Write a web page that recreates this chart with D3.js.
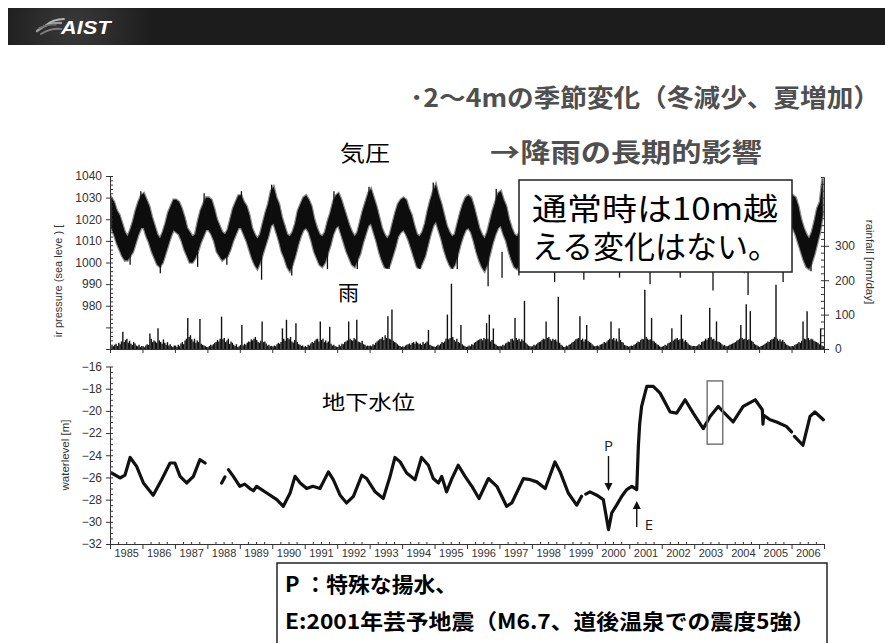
<!DOCTYPE html>
<html>
<head>
<meta charset="utf-8">
<script src="https://cdn.jsdelivr.net/npm/d3@7"></script>
<style>
  body { margin: 0; background: #fff; }
  svg { display: block; }
</style>
</head>
<body>
<svg id="chart" width="885" height="643"></svg>
<script>
// ---- data -------------------------------------------------------------
const years = d3.range(1985, 2007);
const yearLabels = years.map(String);

// monthly upper / lower envelope of sea-level air pressure [hPa], Jan..Dec
const pressureUpper = [
  [1030,1028,1024,1022,1018,1014,1012,1015,1019,1024,1028,1031],
  [1032,1029,1026,1021,1017,1013,1011,1014,1018,1023,1026,1029],
  [1029,1028,1025,1021,1016,1014,1012,1013,1019,1024,1027,1030],
  [1030,1029,1025,1020,1017,1014,1013,1015,1020,1025,1028,1031],
  [1031,1028,1026,1022,1016,1013,1011,1013,1018,1023,1027,1033],
  [1035,1030,1027,1021,1017,1013,1012,1014,1018,1024,1027,1030],
  [1031,1029,1026,1020,1016,1013,1012,1014,1019,1023,1028,1031],
  [1032,1029,1025,1021,1017,1014,1012,1014,1019,1024,1028,1032],
  [1034,1030,1026,1021,1016,1013,1011,1013,1018,1023,1027,1029],
  [1030,1029,1025,1022,1017,1013,1012,1014,1018,1024,1029,1033],
  [1036,1031,1027,1022,1017,1014,1012,1013,1018,1023,1027,1030],
  [1031,1030,1026,1021,1016,1013,1011,1014,1019,1024,1028,1032],
  [1033,1029,1026,1020,1016,1013,1012,1014,1018,1023,1027,1030],
  [1031,1029,1025,1021,1016,1014,1012,1013,1019,1024,1027,1029],
  [1030,1029,1026,1022,1017,1013,1012,1014,1018,1023,1028,1031],
  [1032,1030,1025,1021,1016,1013,1011,1014,1019,1024,1027,1030],
  [1031,1029,1026,1020,1017,1014,1012,1013,1018,1023,1027,1029],
  [1030,1028,1025,1021,1016,1013,1012,1014,1019,1024,1028,1031],
  [1032,1029,1026,1022,1017,1013,1011,1013,1018,1023,1027,1030],
  [1031,1030,1025,1021,1016,1014,1012,1014,1019,1024,1028,1032],
  [1033,1030,1026,1020,1017,1013,1012,1013,1018,1023,1027,1030],
  [1031,1030,1026,1020,1016,1013,1011,1014,1019,1025,1028,1039]
];
const pressureLower = [
  [1016,1013,1009,1006,1003,1001,1001,1003,1005,1009,1013,1016],
  [1016,1012,1009,1005,1002, 999, 998,1000,1004,1008,1012,1015],
  [1014,1013,1010,1006,1003,1000,1000,1002,1005,1009,1012,1015],
  [1015,1013,1010,1005,1003,1001,1002,1003,1006,1010,1013,1016],
  [1016,1013,1010,1006,1002, 999, 997,1000,1004,1008,1012,1017],
  [1018,1014,1010,1005,1002, 998, 996, 999,1003,1008,1012,1015],
  [1016,1014,1010,1005,1002, 999, 998,1000,1004,1008,1013,1016],
  [1017,1013,1009,1005,1002, 999, 998,1001,1004,1009,1013,1017],
  [1018,1014,1010,1005,1001, 998, 997, 999,1003,1007,1012,1014],
  [1015,1013,1010,1006,1002, 998, 997,1000,1003,1008,1013,1017],
  [1019,1015,1011,1006,1002, 999, 997, 999,1003,1008,1012,1015],
  [1016,1014,1010,1005,1001, 998, 996, 999,1004,1009,1013,1016],
  [1017,1013,1010,1005,1001, 998, 997,1000,1003,1008,1012,1015],
  [1016,1014,1010,1006,1002, 999, 997, 999,1004,1009,1012,1014],
  [1015,1013,1010,1006,1002, 999, 998,1000,1003,1008,1013,1016],
  [1017,1014,1009,1005,1001, 998, 997,1000,1004,1009,1012,1015],
  [1016,1013,1010,1005,1002, 999, 998, 999,1003,1008,1012,1014],
  [1015,1013,1010,1006,1001, 998, 997,1000,1004,1009,1013,1016],
  [1017,1014,1010,1006,1002, 999, 998, 999,1003,1008,1012,1015],
  [1016,1014,1009,1005,1001, 998, 996, 999,1004,1009,1013,1017],
  [1018,1014,1010,1005,1002, 999, 998, 999,1003,1008,1012,1015],
  [1016,1013,1009,1005,1001, 998, 997,1000,1004,1009,1014,1022]
];
// short low-pressure drops (typhoon passages): [year, hPa]
const pressureDips = [
  [1985.62,999],[1986.55,995],[1987.7,998],[1988.6,999],[1989.67,992],
  [1990.6,994],[1991.7,997],[1992.62,996],[1993.6,995],[1994.55,996],
  [1995.7,995],[1996.65,989],[1997.08,993],[1997.6,994],[1998.7,991],
  [1999.6,992],[2000.7,993],[2001.64,990],[2002.57,993],[2003.58,987],
  [2004.66,985],[2005.74,991],[2006.6,996]
];
// short high-pressure peaks: [year, hPa]
const pressurePeaks = [
  [1985.95,1033],[1987.9,1032],[1989.05,1033],[1989.98,1036],[1991.9,1033],
  [1992.98,1035],[1994.96,1037],[1996.9,1034],[1998.05,1033]
];

// half-monthly maximum daily rainfall [mm/day]
const rainfall = [
  [6,10,8,12,15,9,18,14,22,50,20,26,30,18,24,15,12,20,16,10,8,12,6,9],
  [8,5,10,14,12,45,30,20,25,22,18,60,25,20,15,28,18,12,20,10,14,8,6,10],
  [10,6,12,8,16,20,14,25,30,90,35,40,28,22,30,18,25,20,87,15,12,10,8,6],
  [5,9,12,10,14,18,20,26,22,30,94,28,32,20,25,30,15,22,18,12,9,14,6,8],
  [12,70,10,15,12,18,22,20,28,25,30,35,26,20,18,24,80,20,22,16,10,12,8,9],
  [7,10,8,14,18,15,20,60,30,24,85,32,28,35,22,18,26,75,20,14,12,9,10,6],
  [9,6,12,10,16,20,18,24,28,30,22,80,26,30,20,25,18,22,65,15,10,12,8,7],
  [6,12,8,15,14,20,22,25,80,30,26,24,32,28,85,22,20,18,24,14,12,8,10,9],
  [10,8,14,12,18,22,25,28,30,35,26,40,32,95,30,28,115,24,20,18,14,10,9,6],
  [8,6,10,12,14,16,12,18,20,15,22,18,14,16,12,20,15,18,22,55,12,10,8,7],
  [6,9,12,10,15,20,18,22,30,100,28,32,190,35,26,22,30,20,18,70,14,10,8,6],
  [7,10,8,14,12,18,20,24,26,28,30,25,32,28,75,30,100,22,26,60,15,12,9,8],
  [9,8,12,10,16,18,22,20,28,30,25,90,32,26,30,22,28,24,140,18,14,10,8,7],
  [8,12,10,14,18,20,22,26,30,28,80,32,35,28,24,30,26,28,22,152,18,12,10,6],
  [6,10,8,12,14,18,20,24,28,30,32,95,26,30,22,28,70,24,20,18,14,10,8,9],
  [10,8,12,14,16,20,18,22,26,30,80,28,32,25,30,22,60,26,20,18,12,10,9,7],
  [8,10,9,12,14,18,22,20,26,30,28,172,35,30,26,28,90,24,22,18,14,12,8,6],
  [7,9,12,10,16,18,20,60,24,28,30,32,26,28,100,30,22,26,20,16,12,10,8,9],
  [9,8,10,14,12,20,22,24,30,26,32,120,35,28,30,24,80,22,20,18,14,10,12,8],
  [8,10,12,14,16,18,20,24,26,30,70,32,28,30,130,26,28,110,24,20,15,12,10,8],
  [6,9,10,12,15,18,22,20,26,28,30,35,187,30,24,28,22,26,20,16,12,10,8,7],
  [9,8,12,14,16,20,18,24,80,30,28,110,32,26,30,28,24,22,20,18,14,60,10,8]
];

// groundwater level [m]; null marks a gap in the record
const waterYears = [
  1985.05,1985.31,1985.46,1985.62,1985.82,1986.03,1986.33,1986.59,1986.85,1987.0,
  1987.16,1987.36,1987.57,1987.77,1987.93,1988.2,1988.44,1988.54,1988.6,1988.65,
  1988.8,1989.0,1989.15,1989.31,1989.42,1989.52,1989.83,1990.14,1990.34,1990.55,
  1990.7,1990.86,1991.06,1991.25,1991.47,1991.73,1991.88,1992.09,1992.29,1992.5,
  1992.76,1992.91,1993.17,1993.42,1993.63,1993.78,1993.94,1994.14,1994.4,1994.6,
  1994.81,1994.96,1995.12,1995.22,1995.37,1995.55,1995.73,1995.94,1996.15,1996.37,
  1996.66,1996.92,1997.22,1997.38,1997.74,1997.95,1998.15,1998.41,1998.71,1998.87,
  1999.12,1999.38,1999.53,1999.6,1999.66,1999.79,2000.0,2000.2,2000.36,2000.46,
  2000.61,2000.77,2000.92,2001.08,2001.23,2001.28,2001.32,2001.38,2001.54,2001.74,
  2001.95,2002.26,2002.46,2002.72,2002.97,2003.28,2003.49,2003.74,2003.9,2004.2,
  2004.51,2004.88,2005.1,2005.12,2005.14,2005.34,2005.54,2005.84,2006.0,2006.05,
  2006.09,2006.35,2006.57,2006.72,2006.98
];
const waterLevels = [
  -25.6,-26.05,-25.8,-24.2,-25.0,-26.5,-27.6,-26.2,-24.7,-24.7,
  -25.9,-26.5,-25.9,-24.4,-24.7,null,-26.5,-25.95,null,-25.3,
  -25.9,-26.8,-26.6,-27.0,-27.2,-26.8,-27.4,-28.0,-28.6,-27.4,
  -25.9,-26.5,-27.0,-26.8,-27.0,-25.5,-26.2,-27.6,-28.3,-27.7,
  -25.8,-26.1,-27.3,-27.9,-25.9,-24.2,-24.6,-25.6,-26.2,-24.2,
  -24.9,-26.1,-26.5,-25.9,-27.3,-26.0,-24.9,-25.9,-26.8,-27.9,
  -26.1,-26.8,-28.6,-28.3,-26.1,-26.2,-26.4,-27.0,-24.6,-25.5,
  -27.4,-28.5,-27.7,null,-27.5,-27.3,-27.6,-28.0,-30.7,-29.2,
  -28.5,-27.7,-27.1,-26.8,-27.1,-23.2,-21.2,-19.6,-17.8,-17.8,
  -18.4,-20.1,-20.2,-19.0,-20.2,-21.6,-20.5,-19.6,-20.1,-21.0,
  -19.6,-19.0,-19.9,-21.2,-20.4,-20.8,-21.0,-21.4,-21.9,null,
  -22.3,-23.1,-20.5,-20.1,-20.8
];

const pressureTicks = [980, 990, 1000, 1010, 1020, 1030, 1040];
const rainTicks = [0, 100, 200, 300];
const waterTicks = [-16, -18, -20, -22, -24, -26, -28, -30, -32];

// event markers
const pumpingYear = 2000.36;   // P
const quakeYear = 2001.23;     // E
const boxYears = [2003.4, 2003.88];
const boxLevels = [-17.3, -23.0];

// ---- layout -----------------------------------------------------------
const svg = d3.select("#chart");
const x = d3.scaleLinear().domain([1985, 2007]).range([110, 824]);
const yP = d3.scaleLinear().domain([960, 1040]).range([349, 176]);
const yR = d3.scaleLinear().domain([0, 500]).range([349, 177]);
const yW = d3.scaleLinear().domain([-32, -16]).range([544, 366.5]);

const numFont = "'Liberation Sans', Arial, sans-serif";
const jpFont = "'Noto Sans CJK JP', 'Noto Sans', sans-serif";

// ---- header bar ----------------------------------------------------------
const defs = svg.append("defs");
const glow = defs.append("radialGradient").attr("id", "hdrGlow")
  .attr("gradientUnits", "userSpaceOnUse").attr("cx", 75).attr("cy", 27).attr("r", 80);
glow.append("stop").attr("offset", 0).attr("stop-color", "#3a3a3a");
glow.append("stop").attr("offset", 1).attr("stop-color", "#1c1c1c");
svg.append("rect").attr("x", 8).attr("y", 8).attr("width", 877).attr("height", 37).attr("fill", "#1c1c1c");
svg.append("rect").attr("x", 8).attr("y", 8).attr("width", 220).attr("height", 37).attr("fill", "url(#hdrGlow)");
const swoosh = svg.append("g").attr("fill", "none").attr("stroke-linecap", "round");
[["M37,31 Q48,22 61,23", "#9a9a9a", 2.4],
 ["M41,34 Q51,28 61,29", "#7c7c7c", 2],
 ["M45,26 Q53,19 64,19", "#b4b4b4", 1.8],
 ["M39,28 Q47,24 56,25", "#6a6a6a", 1.6]].forEach(([d, c, w]) =>
  swoosh.append("path").attr("d", d).attr("stroke", c).attr("stroke-width", w));
svg.append("text").attr("x", 61).attr("y", 33.5).text("AIST")
  .attr("font-family", numFont).attr("font-weight", "bold").attr("font-style", "italic")
  .attr("font-size", 17.5).attr("fill", "#fff").attr("letter-spacing", 0.2)
  .attr("textLength", 50).attr("lengthAdjust", "spacingAndGlyphs");

// ---- headings -----------------------------------------------------------
function jpText(txt, px, py, size, opt = {}) {
  const t = svg.append("text").attr("x", px).attr("y", py).text(txt)
    .attr("font-family", jpFont).attr("font-size", size)
    .attr("font-weight", opt.weight || 400).attr("fill", opt.fill || "#000");
  if (opt.len) t.attr("textLength", opt.len).attr("lengthAdjust", "spacingAndGlyphs");
  return t;
}
jpText("･2〜4mの季節変化（冬減少、夏増加）", 410, 107, 25, { weight: 700, fill: "#4f4f4f", len: 470 });
jpText("気圧", 340, 161, 22, { len: 50 });
jpText("→降雨の長期的影響", 490, 162, 26, { weight: 700, fill: "#4f4f4f", len: 272 });

// ---- upper panel: pressure band + rainfall ------------------------------
const pMonths = [];
years.forEach((yr, i) => pressureUpper[i].forEach((u, m) =>
  pMonths.push({ t: yr + (m + 0.5) / 12, hi: u, lo: pressureLower[i][m] })));
const band = d3.area().x(d => x(d.t)).y0(d => yP(d.lo)).y1(d => yP(d.hi));
// soft grey rim, then the dense core
svg.append("path").datum(pMonths).attr("d", band)
  .attr("fill", "#444").attr("stroke", "#555").attr("stroke-width", 2.6).attr("stroke-opacity", 0.7);
svg.append("path").datum(pMonths).attr("d", band).attr("fill", "#0d0d0d");
svg.append("g").selectAll("line").data(pressureDips).join("line")
  .attr("x1", d => x(d[0])).attr("x2", d => x(d[0]))
  .attr("y1", yP(1005)).attr("y2", d => yP(d[1]))
  .attr("stroke", "#111").attr("stroke-width", 1.3);
svg.append("g").selectAll("line").data(pressurePeaks).join("line")
  .attr("x1", d => x(d[0])).attr("x2", d => x(d[0]))
  .attr("y1", yP(1024)).attr("y2", d => yP(d[1]))
  .attr("stroke", "#111").attr("stroke-width", 1.3);

// clear space behind the rain label
svg.append("rect").attr("x", 325).attr("y", 269).attr("width", 145).attr("height", 36).attr("fill", "#fff");

const rainPts = [];
years.forEach((yr, i) => rainfall[i].forEach((v, k) => rainPts.push({ t: yr + (k + 0.5) / 24, v })));
svg.append("g").selectAll("line").data(rainPts).join("line")
  .attr("x1", d => x(d.t)).attr("x2", d => x(d.t))
  .attr("y1", yR(0)).attr("y2", d => yR(d.v))
  .attr("stroke", "#111").attr("stroke-width", 1.4);

jpText("雨", 338, 300, 21);

// axes of the upper panel
function styleAxis(g, size) {
  g.attr("font-family", numFont).attr("font-size", size || 12);
  g.selectAll("path, line").attr("stroke", "#333");
  g.selectAll("text").attr("fill", "#333");
  return g;
}
styleAxis(svg.append("g").attr("transform", "translate(110,0)")
  .call(d3.axisLeft(yP).tickValues(pressureTicks).tickSize(4).tickSizeOuter(0).tickPadding(4).tickFormat(d3.format("d"))));
styleAxis(svg.append("g").attr("transform", "translate(110,0)")
  .call(d3.axisLeft(yP).tickValues(d3.range(960, 1041, 2)).tickSize(-3).tickSizeOuter(0).tickFormat("")));
styleAxis(svg.append("g").attr("transform", "translate(110,0)")
  .call(d3.axisLeft(yP).tickValues([960, 970]).tickSize(4).tickSizeOuter(0).tickFormat("")));

styleAxis(svg.append("g").attr("transform", "translate(824,0)")
  .call(d3.axisRight(yR).tickValues(rainTicks).tickSize(5).tickSizeOuter(0).tickPadding(6).tickFormat(d3.format("d"))));
styleAxis(svg.append("g").attr("transform", "translate(824,0)")
  .call(d3.axisRight(yR).tickValues(d3.range(0, 501, 20)).tickSize(-3).tickSizeOuter(0).tickFormat("")));

styleAxis(svg.append("g").attr("transform", `translate(0,${yR(0)})`)
  .call(d3.axisBottom(x).tickValues(d3.range(1985, 2008)).tickSize(4).tickSizeOuter(0).tickFormat("")));

svg.append("text").attr("transform", "translate(62,281) rotate(-90)").attr("text-anchor", "middle")
  .attr("font-family", numFont).attr("font-size", 11).attr("fill", "#333")
  .text("ir pressure (sea leve ) [");
svg.append("text").attr("transform", "translate(866,262) rotate(90)").attr("text-anchor", "middle")
  .attr("font-family", numFont).attr("font-size", 11.5).attr("fill", "#333")
  .text("rainfall [mm/day]");

// note box on the upper panel
svg.append("rect").attr("x", 519).attr("y", 180).attr("width", 273).attr("height", 92)
  .attr("fill", "#fff").attr("stroke", "#222").attr("stroke-width", 1.5);
const note = svg.append("text").attr("font-family", jpFont).attr("font-size", 31).attr("fill", "#000");
note.append("tspan").attr("x", 532).attr("y", 220).attr("textLength", 246)
  .attr("lengthAdjust", "spacingAndGlyphs").text("通常時は10m越");
note.append("tspan").attr("x", 532).attr("y", 258).text("える変化はない。");

// ---- lower panel: groundwater level ---------------------------------------
const water = waterYears.map((t, i) => ({ t, v: waterLevels[i] }));
const wline = d3.line().defined(d => d.v !== null).x(d => x(d.t)).y(d => yW(d.v));
svg.append("path").datum(water).attr("d", wline)
  .attr("fill", "none").attr("stroke", "#111").attr("stroke-width", 3.2)
  .attr("stroke-linejoin", "round").attr("stroke-linecap", "round");

styleAxis(svg.append("g").attr("transform", "translate(110,0)")
  .call(d3.axisLeft(yW).tickValues(waterTicks).tickSize(4).tickSizeOuter(0).tickPadding(4).tickFormat(d3.format("d"))));
styleAxis(svg.append("g").attr("transform", "translate(110,0)")
  .call(d3.axisLeft(yW).tickValues(d3.range(-32, -15.9, 0.5)).tickSize(-3).tickSizeOuter(0).tickFormat("")));

const xAxisY = yW(-32);
styleAxis(svg.append("g").attr("transform", `translate(0,${xAxisY})`)
  .call(d3.axisBottom(x).tickValues(d3.range(1985, 2008)).tickSize(5).tickSizeOuter(0).tickFormat("")));
styleAxis(svg.append("g").attr("transform", `translate(0,${xAxisY})`)
  .call(d3.axisBottom(x).tickValues(d3.range(1985, 2007.01, 0.25).filter(v => v % 1 !== 0)).tickSize(-2).tickSizeOuter(0).tickFormat("")));
const yearAxis = styleAxis(svg.append("g").attr("transform", `translate(0,${xAxisY})`)
  .call(d3.axisBottom(x).tickValues(years.map(v => v + 0.5)).tickSize(0).tickPadding(5)
    .tickFormat((d, i) => yearLabels[i])), 11);
yearAxis.select(".domain").remove();

svg.append("text").attr("transform", "translate(69,455) rotate(-90)").attr("text-anchor", "middle")
  .attr("font-family", numFont).attr("font-size", 11.5).attr("fill", "#333")
  .text("waterlevel [m]");

jpText("地下水位", 322, 410, 20, { len: 93 });

// P and E arrows
function arrow(px, yFrom, yTo) {
  const dir = yTo > yFrom ? 1 : -1;
  svg.append("line").attr("x1", px).attr("x2", px).attr("y1", yFrom).attr("y2", yTo - dir * 6)
    .attr("stroke", "#111").attr("stroke-width", 1.4);
  svg.append("path").attr("d", `M${px - 4},${yTo - dir * 8} L${px + 4},${yTo - dir * 8} L${px},${yTo} Z`)
    .attr("fill", "#111");
}
arrow(x(pumpingYear), 456, 491);
arrow(x(quakeYear), 527, 501);
svg.append("text").attr("x", x(pumpingYear)).attr("y", 451).attr("text-anchor", "middle")
  .attr("font-family", "'Open Sans', 'DejaVu Sans', sans-serif").attr("font-size", 15).attr("fill", "#222").text("P");
svg.append("text").attr("x", x(quakeYear) + 8).attr("y", 530)
  .attr("font-family", "'Open Sans', 'DejaVu Sans', sans-serif").attr("font-size", 15).attr("fill", "#222").text("E");

// highlighted window
svg.append("rect")
  .attr("x", x(boxYears[0])).attr("y", yW(boxLevels[0]))
  .attr("width", x(boxYears[1]) - x(boxYears[0])).attr("height", yW(boxLevels[1]) - yW(boxLevels[0]))
  .attr("fill", "none").attr("stroke", "#777").attr("stroke-width", 1.5);

// ---- legend box at the bottom --------------------------------------------
svg.append("rect").attr("x", 277).attr("y", 563).attr("width", 550).attr("height", 100)
  .attr("fill", "#fff").attr("stroke", "#222").attr("stroke-width", 1.5);
jpText("P ：特殊な揚水、", 285, 592, 21, { weight: 700, len: 172 });
jpText("E:2001年芸予地震（M6.7、道後温泉での震度5強）", 285, 629, 21, { weight: 700, len: 530 });
</script>
</body>
</html>
